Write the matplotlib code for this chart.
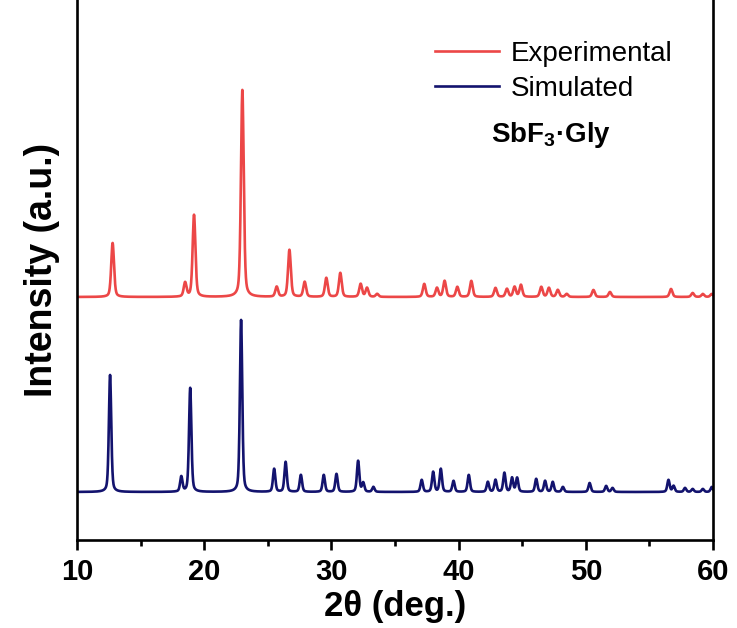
import matplotlib
matplotlib.use("Agg")
import matplotlib.pyplot as plt
import numpy as np

plt.rcParams["font.family"] = ["Liberation Sans", "DejaVu Sans"]
plt.rcParams["mathtext.fontset"] = "custom"
plt.rcParams["mathtext.bf"] = "Liberation Sans:bold"
plt.rcParams["mathtext.rm"] = "Liberation Sans"

# peak list: 2theta (deg) and height (arb. units)
exp_pos = [12.8, 18.5, 19.2, 23.0, 25.7, 26.7, 27.9, 29.6, 30.7, 32.3, 32.8, 33.6,
           37.3, 38.3, 38.9, 39.9, 41.0, 42.9, 43.8, 44.4, 44.9, 46.5, 47.1, 47.8,
           48.5, 50.6, 51.9, 56.7, 58.4, 59.2, 59.9]
exp_int = [54, 14, 82, 207, 10, 47, 15, 19, 24, 13, 9, 3,
           13, 9, 16, 10, 16, 9, 8, 10, 12, 10, 9, 7,
           3, 7, 5, 8, 4, 3, 3]

sim_pos = [12.6, 18.2, 18.9, 22.9, 25.5, 26.4, 27.6, 29.4, 30.4, 32.1, 32.5, 33.3,
           37.1, 38.0, 38.6, 39.6, 40.8, 42.3, 42.9, 43.6, 44.2, 44.6, 46.1, 46.8,
           47.4, 48.2, 50.3, 51.6, 52.1, 56.5, 56.9, 57.8, 58.4, 59.2, 59.9]
sim_int = [117, 15, 104, 172, 23, 30, 17, 17, 18, 31, 9, 5,
           12, 20, 23, 11, 17, 10, 12, 19, 14, 14, 13, 11,
           10, 5, 9, 6, 4, 12, 6, 4, 3, 3, 5]

exp_offset = 243
sim_offset = 48


def pattern(x, pos, heights, fwhm):
    y = np.zeros_like(x)
    g = fwhm / 2.3548
    w = fwhm / 2
    for p, h in zip(pos, heights):
        gauss = np.exp(-0.5 * ((x - p) / g) ** 2)
        lor = 1 / (1 + ((x - p) / w) ** 2)
        y += h * (0.6 * gauss + 0.4 * lor)
    return y


x = np.linspace(10, 60, 5001)
y_exp = pattern(x, exp_pos, exp_int, 0.26) + exp_offset
y_sim = pattern(x, sim_pos, sim_int, 0.22) + sim_offset

fig = plt.figure(figsize=(7.37, 6.28), dpi=100)
ax = fig.add_axes([77 / 737, 88 / 628, 636 / 737, 540 / 628])

ax.plot(x, y_exp, color="#EC4747", lw=1.9, label="Experimental")
ax.plot(x, y_sim, color="#13136E", lw=1.9, label="Simulated")

ax.set_xlim(10, 60)
ax.set_ylim(0, 540)
ax.set_xticks(range(10, 61, 10))
ax.set_xticks(range(15, 60, 10), minor=True)
ax.set_yticks([])
for s in ["left", "right", "bottom"]:
    ax.spines[s].set_linewidth(1.9)
ax.spines["top"].set_visible(False)
ax.tick_params(axis="x", which="major", direction="out", length=7, width=1.9,
               labelsize=21, pad=6)
ax.tick_params(axis="x", which="minor", direction="out", length=4.5, width=1.9)
for lab in ax.get_xticklabels():
    lab.set_fontweight("bold")

ax.set_xlabel("2θ (deg.)", fontsize=25, fontweight="bold", labelpad=3)
ax.set_ylabel("Intensity (a.u.)", fontsize=27, fontweight="bold", labelpad=12)

ax.legend(loc="upper right", bbox_to_anchor=(0.975, 0.97), frameon=False,
          fontsize=20, handlelength=2.3, handletextpad=0.4, labelspacing=0.3)
ax.text(0.745, 0.75, r"SbF$_\mathbf{3}$·Gly", transform=ax.transAxes,
        fontsize=20, fontweight="bold", ha="center", va="center")

fig.savefig("out.png", dpi=100)
